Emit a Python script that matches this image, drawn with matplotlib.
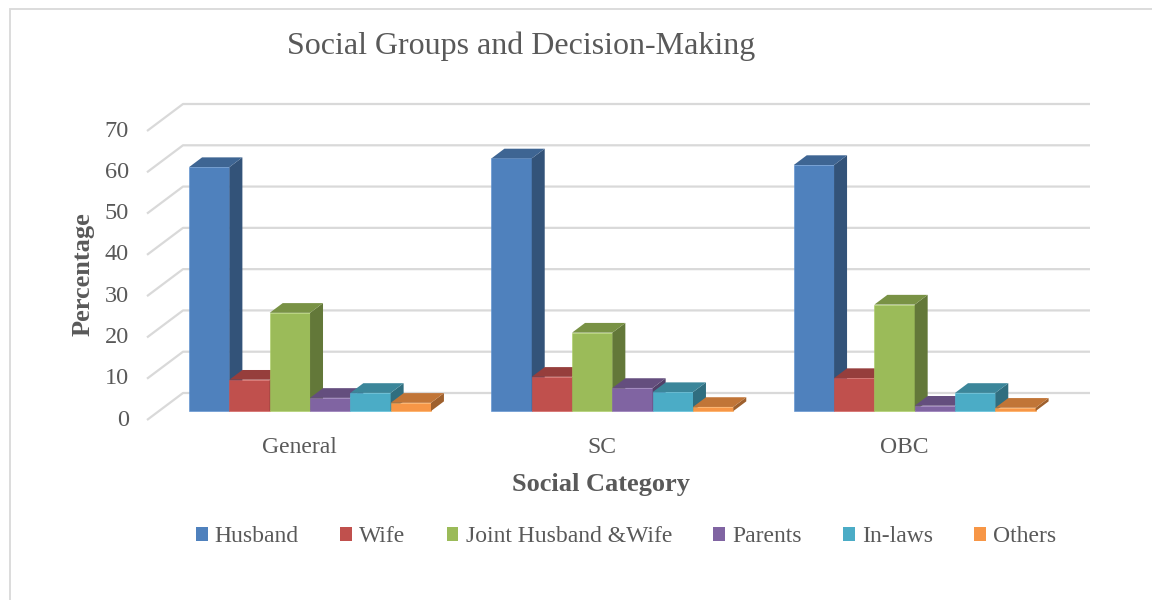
import numpy as np
import matplotlib
matplotlib.use("Agg")
import matplotlib.pyplot as plt
from matplotlib.patches import Polygon, Rectangle
import matplotlib.colors as mcolors

categories = ["General", "SC", "OBC"]
series = ["Husband", "Wife", "Joint Husband &Wife", "Parents", "In-laws", "Others"]
husband = [59.1, 61.2, 59.6]
wife = [7.6, 8.3, 8.0]
joint = [23.8, 19.0, 25.8]
parents = [3.2, 5.6, 1.3]
inlaws = [4.4, 4.6, 4.4]
others = [2.0, 1.0, 0.8]
values = [husband, wife, joint, parents, inlaws, others]
colors = ["#4F81BD", "#C0504D", "#9BBB59", "#8064A2", "#4BACC6", "#F79646"]
yticks = [0, 10, 20, 30, 40, 50, 60, 70]

plt.rcParams["font.family"] = ["Liberation Serif", "DejaVu Serif"]
txt = "#595959"
grid = "#D9D9D9"

fig = plt.figure(figsize=(11.52, 6), dpi=100)
# outer chart frame
fig.patches.append(Rectangle((10/1152, -0.1), 1.2, 1 - 9/600 + 0.1, transform=fig.transFigure,
                             fill=False, edgecolor=grid, linewidth=1.3))

ax = fig.add_axes([147/1152, 0.3, 943/1152, 316/600])
DX = 36/302.3          # depth offset in x units
DY = 27/4.128          # depth offset in value units
ax.set_xlim(-0.5, 2.5 + DX)
ax.set_ylim(0, 70 + DY)
ax.axis("off")

# back wall gridlines + left wall diagonals
for v in yticks:
    ax.plot([-0.5, -0.5 + DX, 2.5 + DX], [v, v + DY, v + DY], color=grid, lw=1.6,
            zorder=1, clip_on=False, solid_capstyle="butt")
    ax.text(-0.5 - 0.06, v, str(v), ha="right", va="center", fontsize=17.5, color=txt)

f0 = 0.33   # depth of bar front face
fd = 0.36   # bar depth
n = len(series)
w = 0.8 / n
x = np.arange(len(categories))
for j, (vals, c) in enumerate(zip(values, colors)):
    base = np.array(mcolors.to_rgb(c))
    top_c = base * 0.78
    side_c = base * 0.64
    xs = x - 0.4 + w * j + f0 * DX
    b0 = f0 * DY
    ax.bar(xs, vals, w, bottom=b0, align="edge", color=c, zorder=10 + j,
           edgecolor=mcolors.to_hex(np.minimum(base * 1.1, 1)), linewidth=0.4)
    for xi, v in zip(xs, vals):
        ddx, ddy = fd * DX, fd * DY
        top = Polygon([(xi, b0 + v), (xi + w, b0 + v), (xi + w + ddx, b0 + v + ddy),
                       (xi + ddx, b0 + v + ddy)], closed=True, facecolor=top_c,
                      edgecolor="none", zorder=10 + j)
        side = Polygon([(xi + w, b0), (xi + w + ddx, b0 + ddy), (xi + w + ddx, b0 + v + ddy),
                        (xi + w, b0 + v)], closed=True, facecolor=side_c,
                       edgecolor="none", zorder=10 + j)
        ax.add_patch(side)
        ax.add_patch(top)

for i, cat in enumerate(categories):
    ax.text(i + 0.005, -6.6, cat, ha="center", va="center", fontsize=17, color=txt, clip_on=False)

fig.text(521/1152, 1 - 46/600, "Social Groups and Decision-Making", ha="center", va="center",
         fontsize=23, color=txt)
fig.text(601/1152, 1 - 484/600, "Social Category", ha="center", va="center",
         fontsize=19, fontweight="bold", color=txt)
fig.text(83/1152, 1 - 274/600, "Percentage", ha="center", va="center", rotation=90,
         fontsize=19, fontweight="bold", color=txt)

handles = [Rectangle((0, 0), 1, 1, facecolor=c) for c in colors]
fig.legend(handles, series, loc="center", bbox_to_anchor=(626/1152, 1 - 537/600), ncol=6,
           frameon=False, fontsize=17, handlelength=0.5, handleheight=0.5,
           handletextpad=0.3, columnspacing=1.75, labelcolor=txt)

fig.savefig("out.png", dpi=100)
